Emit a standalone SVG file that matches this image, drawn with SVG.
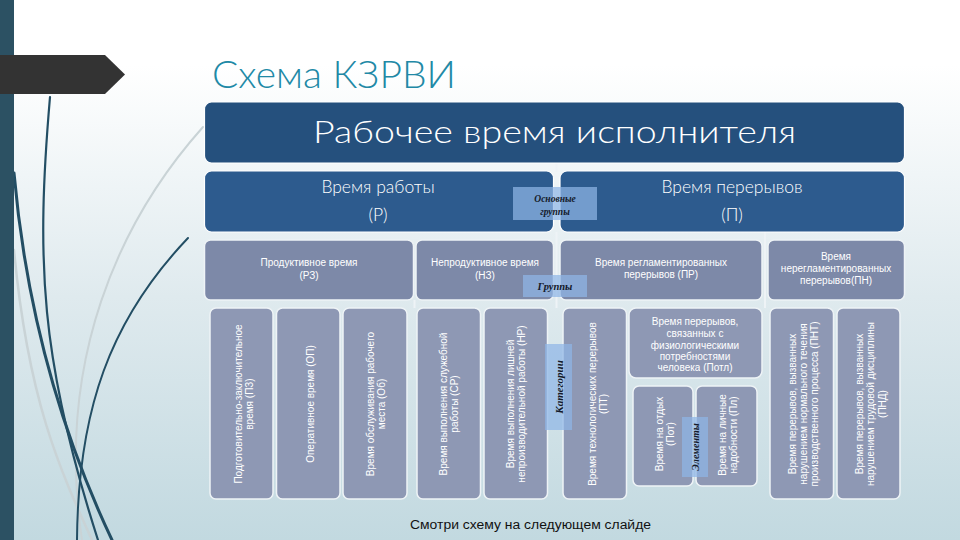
<svg xmlns="http://www.w3.org/2000/svg" width="960" height="540" viewBox="0 0 960 540">
<defs>
<linearGradient id="bg" x1="0" y1="0" x2="0" y2="1">
<stop offset="0" stop-color="#ffffff"/>
<stop offset="0.12" stop-color="#ffffff"/>
<stop offset="0.55" stop-color="#dfeaee"/>
<stop offset="1" stop-color="#c2d9e0"/>
</linearGradient>
<style>
.t{font-family:"Liberation Sans","DejaVu Sans",sans-serif;fill:#ffffff;text-anchor:middle}
.h{font-family:Lato,"Liberation Sans",sans-serif;font-weight:300;fill:#ffffff;text-anchor:middle}
.b0{fill:#25507d;stroke:#ffffff;stroke-width:1.2}
.b1{fill:#2d5b8e;stroke:#ffffff;stroke-width:1.2}
.b2{fill:#7d89a8;stroke:#eef3f6;stroke-width:1.5}
.b3{fill:#8e98b4;stroke:#eef3f6;stroke-width:1.5}
.lab{fill:#8fb6e6;opacity:0.72}
.lt{font-family:"Liberation Serif","DejaVu Serif",serif;font-style:italic;font-weight:bold;fill:#141a2a;text-anchor:middle}
.s10{font-size:10px}
.s95{font-size:9.5px}
.con{stroke:#eef3f6;stroke-width:2;fill:none}
.dk{fill:none;stroke:#234e64;stroke-linecap:round}
.lg{fill:none;stroke:#c9d3d6;stroke-linecap:round}
</style>
</defs>
<rect width="960" height="540" fill="url(#bg)"/>

<g id="decor">
<path class="lg" d="M203,127 C120,220 55,360 82,540" stroke-width="2"/>
<path class="lg" d="M14,250 C28,400 60,470 92,540" stroke-width="2.5"/>
<path class="dk" d="M50,97 C36,260 40,360 98,540" stroke-width="2.2"/>
<path class="dk" d="M14,173 C26,310 60,430 112,540" stroke-width="3"/>
<path class="dk" d="M188,238 C110,320 78,410 77,540" stroke-width="2"/>
<rect x="0" y="0" width="14" height="540" fill="#2c5163"/>
<polygon points="0,55 105,55 125,74.5 105,94 0,94" fill="#333333"/>
</g>

<text x="212" y="88" font-family="Lato, Liberation Sans, sans-serif" font-weight="300" font-size="37" fill="#2189a6" textLength="244" lengthAdjust="spacingAndGlyphs">Схема КЗРВИ</text>

<g id="connectors">
<line class="con" x1="556.5" y1="163" x2="556.5" y2="172"/>
<line class="con" x1="556.5" y1="232" x2="556.5" y2="308"/>
<line class="con" x1="765" y1="232" x2="765" y2="308"/>
<line class="con" x1="414.5" y1="300" x2="414.5" y2="308"/>
</g>

<g id="n-root">
<rect class="b0" x="204.5" y="102" width="700" height="61" rx="7"/>
<text class="h" x="554.5" y="143" font-size="31" textLength="483" lengthAdjust="spacingAndGlyphs">Рабочее время исполнителя</text>
</g>

<g id="n-R">
<rect class="b1" x="204.5" y="171" width="349" height="61" rx="7"/>
<text class="h" font-size="17.5"><tspan x="378" y="193">Время работы</tspan><tspan x="378" y="221">(Р)</tspan></text>
</g>
<g id="n-P">
<rect class="b1" x="560" y="171" width="344.5" height="61" rx="7"/>
<text class="h" font-size="17.5"><tspan x="732" y="193">Время перерывов</tspan><tspan x="732" y="221">(П)</tspan></text>
</g>

<g id="n-RZ">
<rect class="b2" x="204.5" y="240" width="209" height="60" rx="6"/>
<text class="t s10"><tspan x="309" y="266">Продуктивное время</tspan><tspan x="309" y="279">(РЗ)</tspan></text>
</g>
<g id="n-NZ">
<rect class="b2" x="416" y="240" width="137.5" height="60" rx="6"/>
<text class="t s10"><tspan x="485" y="266">Непродуктивное время</tspan><tspan x="485" y="279">(НЗ)</tspan></text>
</g>
<g id="n-PR">
<rect class="b2" x="560" y="240" width="202" height="60" rx="6"/>
<text class="t s10"><tspan x="661" y="266">Время регламентированных</tspan><tspan x="661" y="278">перерывов (ПР)</tspan></text>
</g>
<g id="n-PN">
<rect class="b2" x="768" y="240" width="136.5" height="60" rx="6"/>
<text class="t s10"><tspan x="836" y="260">Время</tspan><tspan x="836" y="272">нерегламентированных</tspan><tspan x="836" y="284">перерывов(ПН)</tspan></text>
</g>

<g id="n-PZ">
<rect class="b3" x="210" y="308" width="63" height="191" rx="6"/>
<text class="t s10" transform="translate(241.5,404) rotate(-90)"><tspan x="0" y="0">Подготовительно-заключительное</tspan><tspan x="0" dy="11.5">время (ПЗ)</tspan></text>
</g>
<g id="n-OP">
<rect class="b3" x="276.5" y="308" width="63.5" height="191" rx="6"/>
<text class="t s10" transform="translate(313.5,404) rotate(-90)"><tspan x="0" y="0">Оперативное время (ОП)</tspan></text>
</g>
<g id="n-Ob">
<rect class="b3" x="343" y="308" width="64" height="191" rx="6"/>
<text class="t s10" transform="translate(373.5,404) rotate(-90)"><tspan x="0" y="0">Время обслуживания рабочего</tspan><tspan x="0" dy="11.5">места (Об)</tspan></text>
</g>
<g id="n-SR">
<rect class="b3" x="417" y="308" width="63.5" height="191" rx="6"/>
<text class="t s10" transform="translate(446.5,404) rotate(-90)"><tspan x="0" y="0">Время выполнения служебной</tspan><tspan x="0" dy="11.5">работы (СР)</tspan></text>
</g>
<g id="n-NR">
<rect class="b3" x="484" y="308" width="63.5" height="191" rx="6"/>
<text class="t s10" transform="translate(513.5,404) rotate(-90)"><tspan x="0" y="0">Время выполнения лишней</tspan><tspan x="0" dy="11.5">непроизводительной работы (НР)</tspan></text>
</g>
<g id="n-PT">
<rect class="b3" x="563" y="308" width="63.5" height="191" rx="6"/>
<text class="t s10" transform="translate(595.5,404) rotate(-90)"><tspan x="0" y="0">Время технологических перерывов</tspan><tspan x="0" dy="11.5">(ПТ)</tspan></text>
</g>
<g id="n-Potl">
<rect class="b3" x="629" y="308" width="133" height="70" rx="7"/>
<text class="t s10"><tspan x="695" y="325">Время перерывов,</tspan><tspan x="695" y="337">связанных с</tspan><tspan x="695" y="348.5">физиологическими</tspan><tspan x="695" y="360">потребностями</tspan><tspan x="695" y="371">человека (Потл)</tspan></text>
</g>
<g id="n-Pot">
<rect class="b3" x="633" y="386" width="60" height="100" rx="6"/>
<text class="t s10" transform="translate(662.5,434) rotate(-90)"><tspan x="0" y="0">Время на отдых</tspan><tspan x="0" dy="11.5">(Пот)</tspan></text>
</g>
<g id="n-Pl">
<rect class="b3" x="696" y="386" width="61" height="100" rx="6"/>
<text class="t s10" transform="translate(725.5,435) rotate(-90)"><tspan x="0" y="0">Время на личные</tspan><tspan x="0" dy="11.5">надобности (Пл)</tspan></text>
</g>
<g id="n-PNT">
<rect class="b3" x="770" y="308" width="63.5" height="191" rx="6"/>
<text class="t s10" transform="translate(795.5,404) rotate(-90)"><tspan x="0" y="0">Время перерывов, вызванных</tspan><tspan x="0" dy="11">нарушением нормального течения</tspan><tspan x="0" dy="11">производственного процесса (ПНТ)</tspan></text>
</g>
<g id="n-PND">
<rect class="b3" x="837" y="308" width="63" height="191" rx="6"/>
<text class="t s10" transform="translate(862.5,404) rotate(-90)"><tspan x="0" y="0">Время перерывов, вызванных</tspan><tspan x="0" dy="11.5">нарушением трудовой дисциплины</tspan><tspan x="0" dy="11.5">(ПНД)</tspan></text>
</g>

<g id="lab-osn">
<rect class="lab" x="513" y="187" width="84" height="33"/>
<text class="lt s95"><tspan x="555" y="202">Основные</tspan><tspan x="555" y="215">группы</tspan></text>
</g>
<g id="lab-grp">
<rect class="lab" x="523" y="275" width="64" height="22"/>
<text class="lt" font-size="10.5" x="555" y="290">Группы</text>
</g>
<g id="lab-kat">
<rect class="lab" x="545" y="344" width="27" height="86"/>
<text class="lt" font-size="11" transform="translate(562.5,387) rotate(-90)" x="0" y="0">Категории</text>
</g>
<g id="lab-el">
<rect class="lab" x="682" y="417" width="26" height="60"/>
<text class="lt" font-size="10" font-style="normal" transform="translate(698.5,447) rotate(-90)" x="0" y="0">Элементы</text>
</g>

<text x="410" y="529" font-family="Liberation Sans, DejaVu Sans, sans-serif" font-size="12.5" fill="#111111" textLength="241" lengthAdjust="spacingAndGlyphs">Смотри схему на следующем  слайде</text>
</svg>
